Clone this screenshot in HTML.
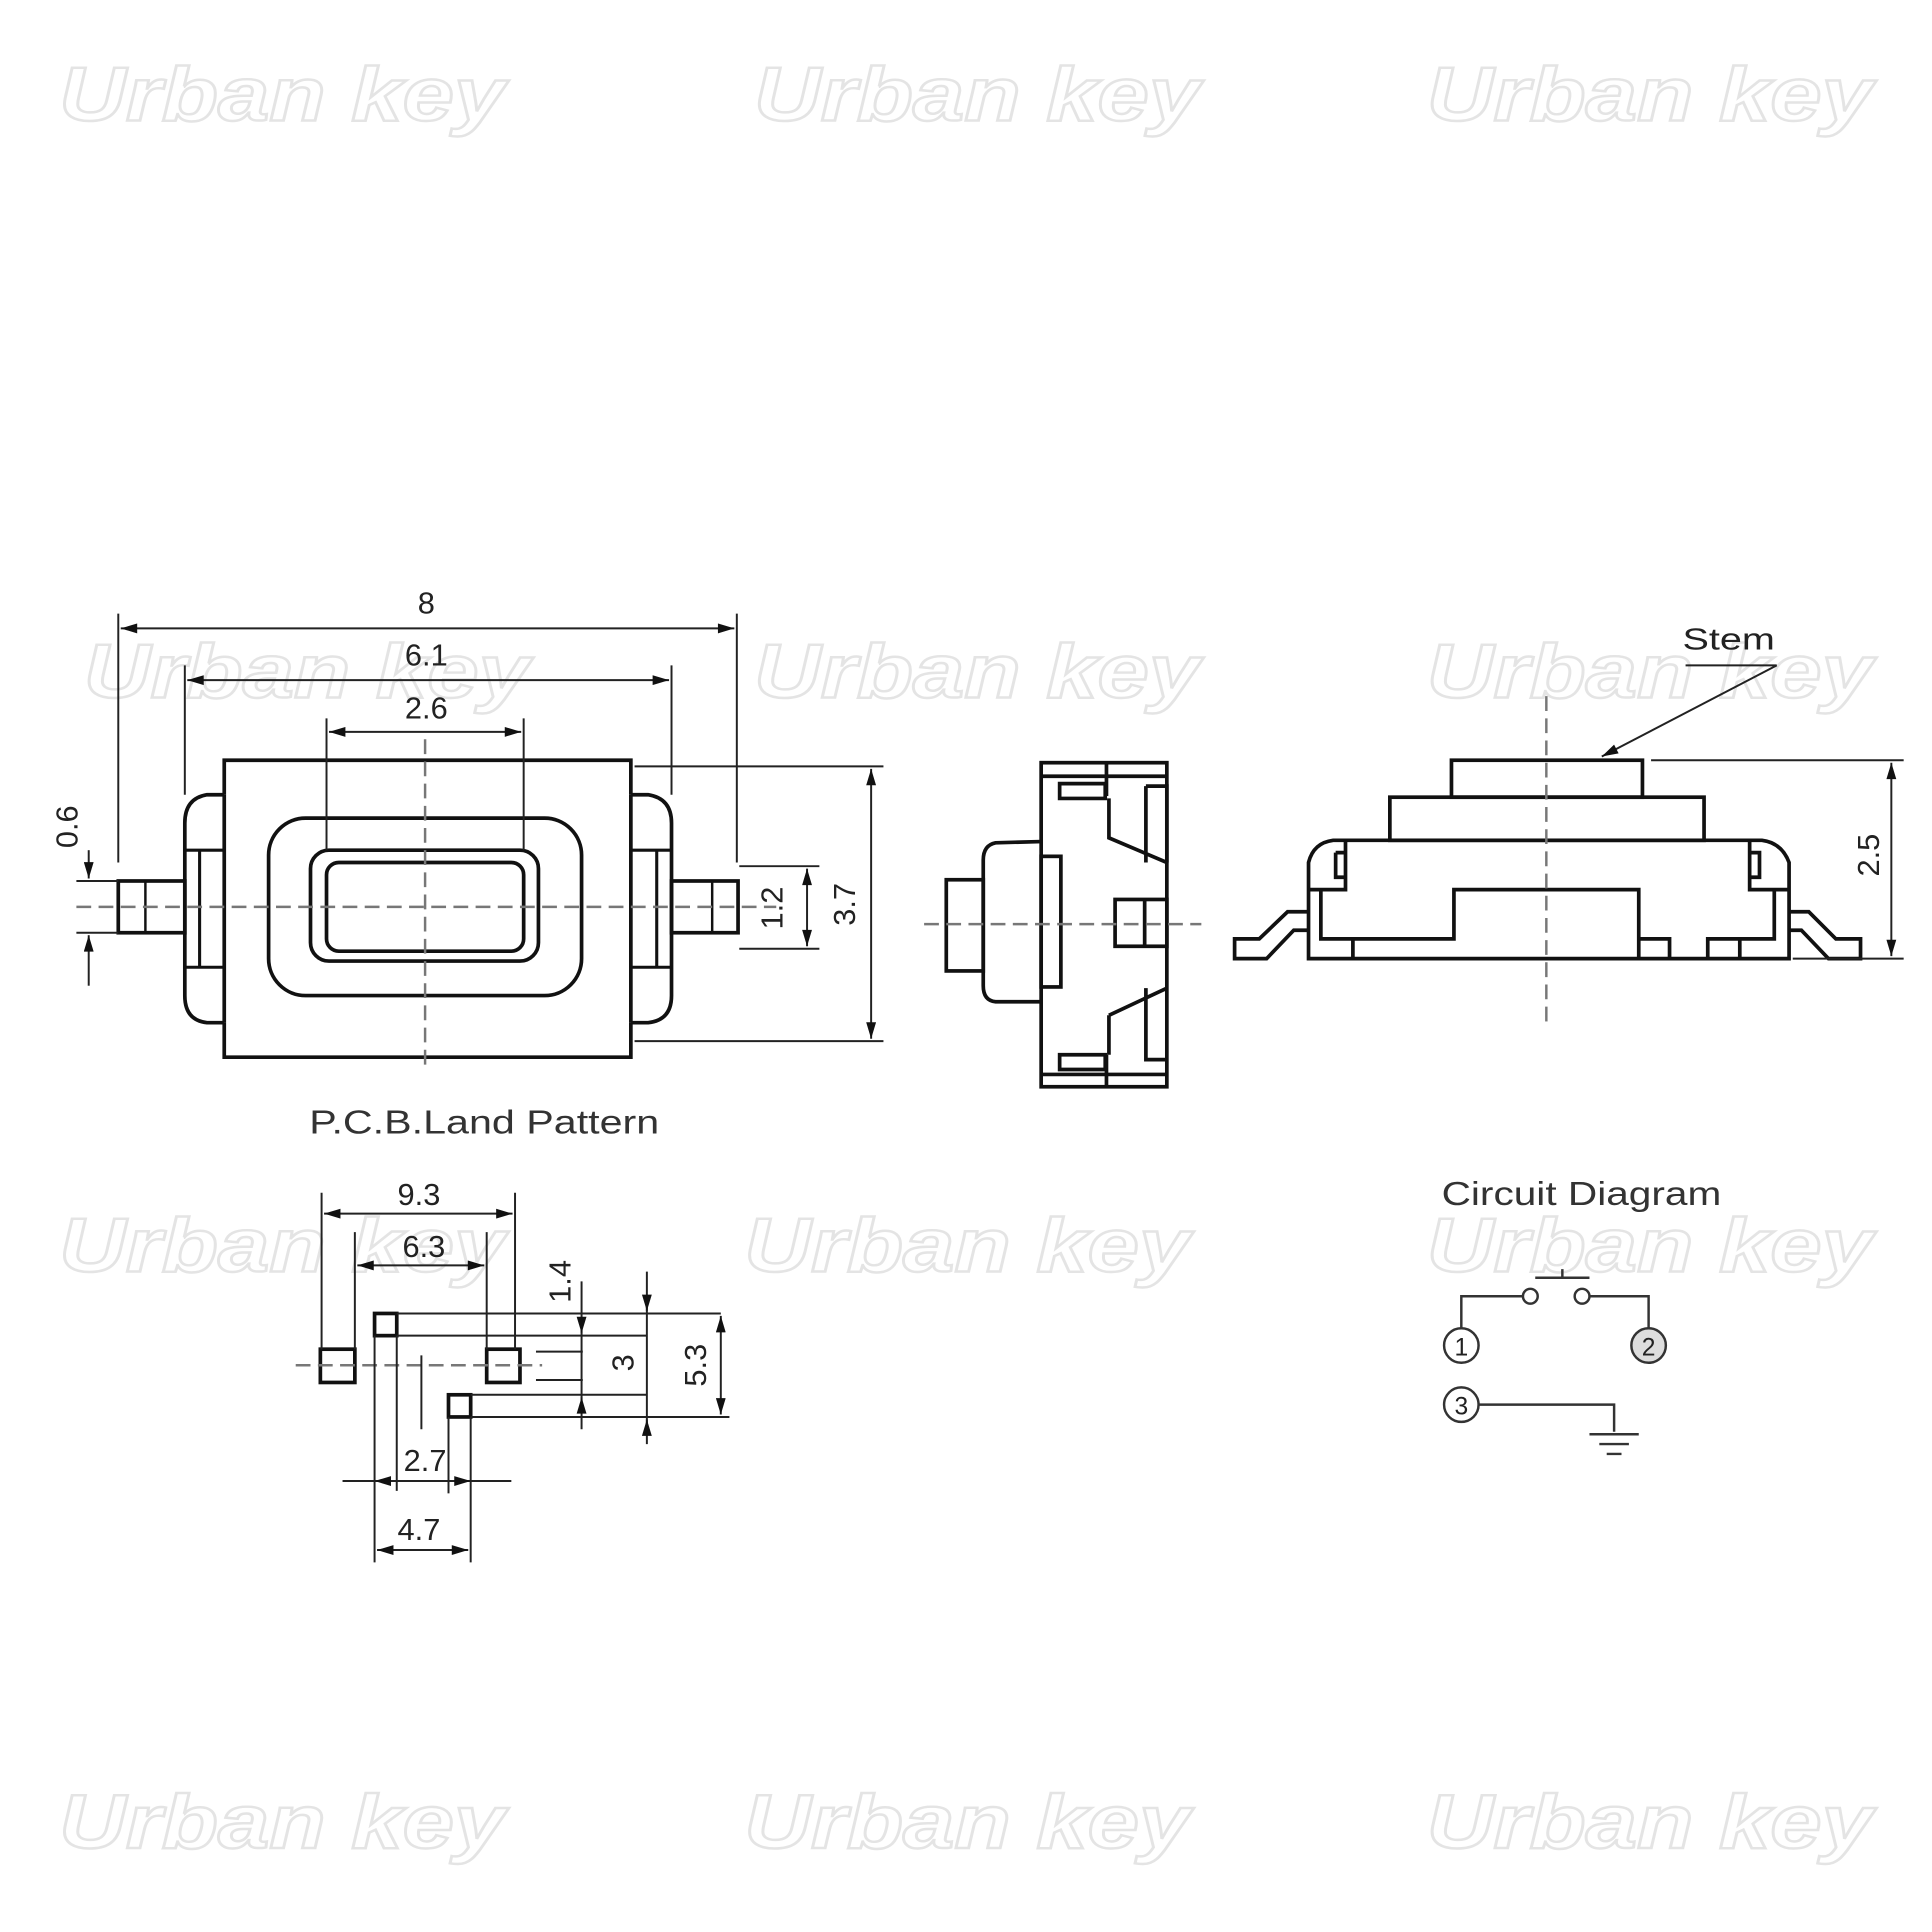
<!DOCTYPE html>
<html><head><meta charset="utf-8"><style>html,body{margin:0;padding:0;background:#fff}svg{display:block}</style></head>
<body>
<svg width="1932" height="1932" viewBox="0 0 1568 1568" xmlns="http://www.w3.org/2000/svg" font-family="Liberation Sans, sans-serif">
<defs>
<marker id="a" viewBox="0 0 10 6" refX="10" refY="3" markerWidth="14" markerHeight="8" markerUnits="userSpaceOnUse" orient="auto-start-reverse"><path d="M0,0 L10,3 L0,6 Z" fill="#111"/></marker>
</defs>
<rect width="1568" height="1568" fill="#fff"/>
<g font-size="62" font-weight="bold" font-style="italic" fill="#fff" stroke="#e4e4e4" stroke-width="2">
<text x="48" y="98" textLength="362" lengthAdjust="spacingAndGlyphs">Urban key</text><text x="612" y="98" textLength="362" lengthAdjust="spacingAndGlyphs">Urban key</text><text x="1158" y="98" textLength="362" lengthAdjust="spacingAndGlyphs">Urban key</text>
<text x="68" y="566" textLength="362" lengthAdjust="spacingAndGlyphs">Urban key</text><text x="612" y="566" textLength="362" lengthAdjust="spacingAndGlyphs">Urban key</text><text x="1158" y="566" textLength="362" lengthAdjust="spacingAndGlyphs">Urban key</text>
<text x="48" y="1032" textLength="362" lengthAdjust="spacingAndGlyphs">Urban key</text><text x="604" y="1032" textLength="362" lengthAdjust="spacingAndGlyphs">Urban key</text><text x="1158" y="1032" textLength="362" lengthAdjust="spacingAndGlyphs">Urban key</text>
<text x="48" y="1500" textLength="362" lengthAdjust="spacingAndGlyphs">Urban key</text><text x="604" y="1500" textLength="362" lengthAdjust="spacingAndGlyphs">Urban key</text><text x="1158" y="1500" textLength="362" lengthAdjust="spacingAndGlyphs">Urban key</text>
</g>
<g fill="none" stroke="#111" stroke-width="3">
<path d="M182,645 L182,617 L512,617 L512,645 M182,830 L182,858 L512,858 L512,830"/>
<path d="M182,645 L168,645 Q150,648 150,668 L150,808 Q150,828 168,830 L182,830 M182,645 L182,830"/>
<path d="M512,645 L526,645 Q545,648 545,668 L545,808 Q545,828 526,830 L512,830 M512,645 L512,830"/>
<path d="M150,690 L182,690 M150,785 L182,785 M162,690 L162,785 M512,690 L545,690 M512,785 L545,785 M533,690 L533,785" stroke-width="2.5"/>
<rect x="96" y="715" width="54" height="42"/><rect x="545" y="715" width="54" height="42"/>
<line x1="118" y1="715" x2="118" y2="757" stroke-width="2"/><line x1="578" y1="715" x2="578" y2="757" stroke-width="2"/>
<rect x="218" y="664" width="254" height="144" rx="30"/>
<rect x="252" y="690" width="185" height="90" rx="15"/>
<rect x="265" y="700" width="160" height="72" rx="10"/>
<rect x="845" y="619" width="102" height="263"/>
<path d="M845,630 L947,630 M845,872 L947,872 M898,619 L898,646 M898,856 L898,882"/>
<path d="M860,636 L897,636 L897,648 L860,648 Z M860,856 L897,856 L897,868 L860,868 Z"/>
<path d="M930,638 L947,638 L947,700 M930,638 L930,700 M900,648 L900,680 L947,700 M900,824 L900,856 M930,802 L930,860 L947,860 M900,824 L947,802"/>
<rect x="905" y="730" width="42" height="38"/><line x1="929" y1="730" x2="929" y2="768"/>
<rect x="845" y="695" width="16" height="106"/>
<path d="M845,683 L808,684 Q798,686 798,698 L798,800 Q798,812 808,813 L845,813"/>
<rect x="768" y="714" width="30" height="74"/>
<rect x="1178" y="617" width="155" height="30"/>
<rect x="1128" y="647" width="255" height="35"/>
<path d="M1062,778 L1062,700 Q1066,684 1082,682 L1430,682 Q1446,684 1452,700 L1452,778 Z"/>
<path d="M1092,682 L1092,722 L1062,722 M1084,692 L1092,692 M1084,692 L1084,712 L1092,712 M1420,682 L1420,722 L1452,722 M1420,692 L1428,692 L1428,712 L1420,712"/>
<path d="M1072,722 L1072,762 L1180,762 L1180,722 L1330,722 L1330,778 M1440,722 L1440,762 L1386,762 L1386,778 M1098,762 L1098,778 M1330,762 L1355,762 L1355,778 M1412,762 L1412,778"/>
<path d="M1062,740 L1045,740 L1022,762 L1002,762 L1002,778 L1028,778 L1050,755 L1062,755"/>
<path d="M1452,740 L1468,740 L1490,762 L1510,762 L1510,778 L1484,778 L1462,755 L1452,755"/>
<rect x="260" y="1095" width="28" height="27"/><rect x="395" y="1095" width="27" height="27"/>
<rect x="304" y="1066" width="18" height="18"/><rect x="364" y="1132" width="18" height="18"/>
</g>
<g stroke="#777" stroke-width="2" stroke-dasharray="12,6" fill="none">
<line x1="345" y1="600" x2="345" y2="868"/><line x1="62" y1="736" x2="630" y2="736"/>
<line x1="750" y1="750" x2="975" y2="750"/>
<line x1="1255" y1="565" x2="1255" y2="835"/>
<line x1="240" y1="1108" x2="440" y2="1108"/>
</g>
<g stroke="#222" stroke-width="1.6" fill="none">
<line x1="96" y1="498" x2="96" y2="700"/><line x1="598" y1="498" x2="598" y2="700"/>
<line x1="150" y1="540" x2="150" y2="645"/><line x1="545" y1="540" x2="545" y2="645"/>
<line x1="265" y1="583" x2="265" y2="690"/><line x1="425" y1="583" x2="425" y2="690"/>
<line x1="98" y1="510" x2="596" y2="510" marker-start="url(#a)" marker-end="url(#a)"/>
<line x1="152" y1="552" x2="543" y2="552" marker-start="url(#a)" marker-end="url(#a)"/>
<line x1="267" y1="594" x2="423" y2="594" marker-start="url(#a)" marker-end="url(#a)"/>
<line x1="515" y1="622" x2="717" y2="622"/><line x1="515" y1="845" x2="717" y2="845"/>
<line x1="707" y1="624" x2="707" y2="843" marker-start="url(#a)" marker-end="url(#a)"/>
<line x1="600" y1="703" x2="665" y2="703"/><line x1="600" y1="770" x2="665" y2="770"/>
<line x1="655" y1="705" x2="655" y2="768" marker-start="url(#a)" marker-end="url(#a)"/>
<line x1="62" y1="715" x2="96" y2="715"/><line x1="62" y1="757" x2="96" y2="757"/>
<line x1="72" y1="690" x2="72" y2="713" marker-end="url(#a)"/><line x1="72" y1="800" x2="72" y2="759" marker-end="url(#a)"/>
<line x1="1340" y1="617" x2="1545" y2="617"/><line x1="1455" y1="778" x2="1545" y2="778"/>
<line x1="1535" y1="619" x2="1535" y2="776" marker-start="url(#a)" marker-end="url(#a)"/>
<line x1="1442" y1="540" x2="1300" y2="614" marker-end="url(#a)"/><line x1="1442" y1="540" x2="1368" y2="540"/>
<line x1="261" y1="968" x2="261" y2="1095"/><line x1="418" y1="968" x2="418" y2="1095"/>
<line x1="263" y1="985" x2="416" y2="985" marker-start="url(#a)" marker-end="url(#a)"/>
<line x1="288" y1="1000" x2="288" y2="1095"/><line x1="395" y1="1000" x2="395" y2="1095"/>
<line x1="290" y1="1027" x2="393" y2="1027" marker-start="url(#a)" marker-end="url(#a)"/>
<line x1="322" y1="1066" x2="585" y2="1066"/><line x1="322" y1="1084" x2="525" y2="1084"/>
<line x1="382" y1="1132" x2="525" y2="1132"/><line x1="382" y1="1150" x2="592" y2="1150"/>
<line x1="472" y1="1040" x2="472" y2="1160"/><line x1="472" y1="1070" x2="472" y2="1082" marker-end="url(#a)"/><line x1="472" y1="1146" x2="472" y2="1134" marker-end="url(#a)"/>
<line x1="435" y1="1097" x2="473" y2="1097"/><line x1="435" y1="1120" x2="473" y2="1120"/>
<line x1="525" y1="1032" x2="525" y2="1172"/><line x1="525" y1="1054" x2="525" y2="1064" marker-end="url(#a)"/><line x1="525" y1="1162" x2="525" y2="1152" marker-end="url(#a)"/>
<line x1="585" y1="1068" x2="585" y2="1148" marker-start="url(#a)" marker-end="url(#a)"/>
<line x1="304" y1="1084" x2="304" y2="1268"/><line x1="322" y1="1084" x2="322" y2="1210"/>
<line x1="342" y1="1100" x2="342" y2="1160"/>
<line x1="364" y1="1150" x2="364" y2="1212"/><line x1="382" y1="1150" x2="382" y2="1268"/>
<line x1="278" y1="1202" x2="415" y2="1202"/>
<line x1="304" y1="1202" x2="322" y2="1202" marker-start="url(#a)"/><line x1="364" y1="1202" x2="382" y2="1202" marker-end="url(#a)"/>
<line x1="306" y1="1258" x2="380" y2="1258" marker-start="url(#a)" marker-end="url(#a)"/>
</g>
<g stroke="#333" stroke-width="2" fill="none">
<path d="M1186,1078 L1186,1052 L1236,1052 M1290,1052 L1338,1052 L1338,1078"/>
<circle cx="1242" cy="1052" r="6"/><circle cx="1284" cy="1052" r="6"/>
<path d="M1246,1037 L1290,1037 M1268,1037 L1268,1030"/>
<circle cx="1186" cy="1092" r="14"/><circle cx="1338" cy="1092" r="14" fill="#ddd"/>
<circle cx="1186" cy="1140" r="14"/>
<path d="M1200,1140 L1310,1140 L1310,1162 M1290,1164 L1330,1164 M1298,1172 L1322,1172 M1304,1180 L1316,1180"/>
</g>
<g fill="#222" font-size="25" text-anchor="middle">
<text x="346" y="498">8</text><text x="346" y="540">6.1</text><text x="346" y="583">2.6</text>
<text x="1403" y="527" textLength="75" lengthAdjust="spacingAndGlyphs">Stem</text>
<text x="340" y="978">9.3</text><text x="344" y="1020">6.3</text>
<text x="345" y="1194">2.7</text><text x="340" y="1250">4.7</text>
<text x="1186" y="1100" font-size="20">1</text><text x="1338" y="1100" font-size="20">2</text><text x="1186" y="1148" font-size="20">3</text>
</g>
<g fill="#222" font-size="25" text-anchor="middle">
<text transform="translate(63,671) rotate(-90)">0.6</text>
<text transform="translate(635,737) rotate(-90)">1.2</text>
<text transform="translate(694,734) rotate(-90)">3.7</text>
<text transform="translate(1525,694) rotate(-90)">2.5</text>
<text transform="translate(463,1040) rotate(-90)">1.4</text>
<text transform="translate(514,1106) rotate(-90)">3</text>
<text transform="translate(573,1108) rotate(-90)">5.3</text>
</g>
<g fill="#333" font-size="27">
<text x="251" y="920" textLength="284" lengthAdjust="spacingAndGlyphs">P.C.B.Land Pattern</text>
<text x="1170" y="978" textLength="227" lengthAdjust="spacingAndGlyphs">Circuit Diagram</text>
</g>
</svg>
</body></html>
